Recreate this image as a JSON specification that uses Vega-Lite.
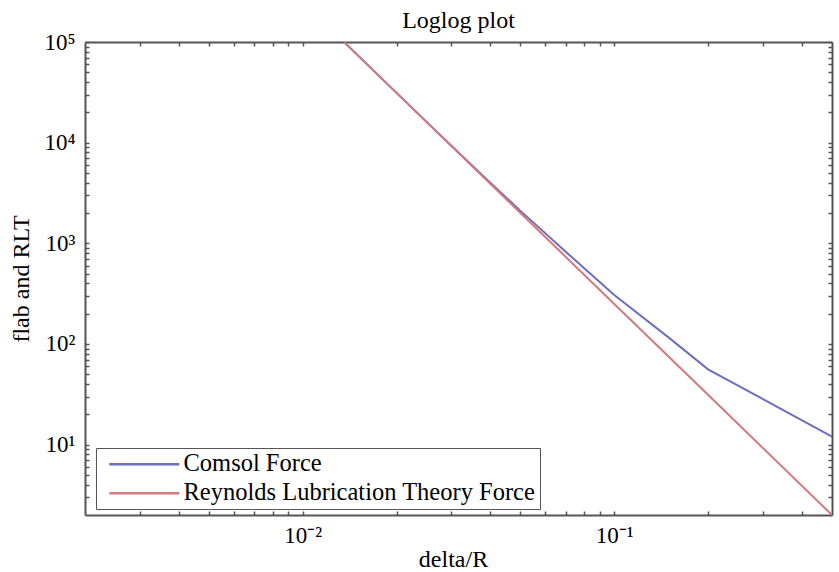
{
  "$schema": "https://vega.github.io/schema/vega-lite/v6.json",
  "width": 747,
  "height": 473,
  "autosize": {"type": "none"},
  "padding": {"left": 85, "top": 42, "right": 7, "bottom": 57},
  "background": "white",
  "title": {"text": "Loglog plot", "font": "Liberation Serif", "fontSize": 24, "fontWeight": "normal", "color": "black", "frame": "group", "anchor": "middle", "offset": -2},
  "data": {"values": [
    {"delta": 0.0136, "force": 99400, "series": "Comsol Force"},
    {"delta": 0.02, "force": 31250, "series": "Comsol Force"},
    {"delta": 0.03, "force": 9300, "series": "Comsol Force"},
    {"delta": 0.04, "force": 4000, "series": "Comsol Force"},
    {"delta": 0.05, "force": 2100, "series": "Comsol Force"},
    {"delta": 0.07, "force": 820, "series": "Comsol Force"},
    {"delta": 0.1, "force": 306, "series": "Comsol Force"},
    {"delta": 0.15, "force": 115, "series": "Comsol Force"},
    {"delta": 0.2, "force": 56, "series": "Comsol Force"},
    {"delta": 0.5, "force": 12, "series": "Comsol Force"},
    {"delta": 0.0136, "force": 99400, "series": "Reynolds Lubrication Theory Force"},
    {"delta": 0.02, "force": 31250, "series": "Reynolds Lubrication Theory Force"},
    {"delta": 0.05, "force": 2000, "series": "Reynolds Lubrication Theory Force"},
    {"delta": 0.1, "force": 250, "series": "Reynolds Lubrication Theory Force"},
    {"delta": 0.2, "force": 31.25, "series": "Reynolds Lubrication Theory Force"},
    {"delta": 0.5, "force": 2, "series": "Reynolds Lubrication Theory Force"}
  ]},
  "layer": [
    {
      "mark": {"type": "line", "strokeWidth": 2, "clip": true},
      "encoding": {
        "x": {"field": "delta", "type": "quantitative",
          "scale": {"type": "log", "domain": [0.002, 0.5], "nice": false},
          "axis": {"orient": "bottom", "title": "delta/R", "titleX": 368, "titleY": 51, "titleBaseline": "alphabetic", "titleAnchor": null,
            "values": [0.003,0.004,0.005,0.006,0.007,0.008,0.009,0.01,0.02,0.03,0.04,0.05,0.06,0.07,0.08,0.09,0.1,0.2,0.3,0.4],
            "labelExpr": "datum.value == 0.01 ? '10⁻²' : datum.value == 0.1 ? '10⁻¹' : ''",
            "labelPadding": 13}},
        "y": {"field": "force", "type": "quantitative",
          "scale": {"type": "log", "domain": [2, 100000], "nice": false},
          "axis": {"orient": "left", "title": "flab and RLT", "titleX": -64, "titleY": 236.5, "titleAngle": -90, "titleAlign": "center", "titleBaseline": "middle",
            "values": [3,4,5,6,7,8,9,10,20,30,40,50,60,70,80,90,100,200,300,400,500,600,700,800,900,1000,2000,3000,4000,5000,6000,7000,8000,9000,10000,20000,30000,40000,50000,60000,70000,80000,90000,100000],
            "labelExpr": "datum.value == 10 ? '10¹' : datum.value == 100 ? '10²' : datum.value == 1000 ? '10³' : datum.value == 10000 ? '10⁴' : datum.value == 100000 ? '10⁵' : ''",
            "labelPadding": 14}},
        "color": {"field": "series", "type": "nominal",
          "scale": {"domain": ["Comsol Force", "Reynolds Lubrication Theory Force"], "range": ["#6c6fc0", "#d27a7c"]},
          "legend": {"title": null, "orient": "none", "legendX": 11, "legendY": 406, "fillColor": "white", "strokeColor": "#555", "padding": 4,
            "symbolType": "M-0.3,0H6.7", "symbolSize": 400, "symbolStrokeWidth": 2.5, "rowPadding": 4, "labelFont": "Liberation Serif", "labelFontSize": 24.5, "labelColor": "black", "labelOffset": 59, "labelLimit": 600}}
      }
    },
    {
      "mark": {"type": "line", "opacity": 0},
      "encoding": {
        "x": {"field": "delta", "type": "quantitative",
          "scale": {"type": "log", "domain": [0.002, 0.5], "nice": false},
          "axis": {"orient": "top", "title": null, "labels": false,
            "values": [0.003,0.004,0.005,0.006,0.007,0.008,0.009,0.01,0.02,0.03,0.04,0.05,0.06,0.07,0.08,0.09,0.1,0.2,0.3,0.4]}},
        "y": {"field": "force", "type": "quantitative",
          "scale": {"type": "log", "domain": [2, 100000], "nice": false},
          "axis": {"orient": "right", "title": null, "labels": false,
            "values": [3,4,5,6,7,8,9,10,20,30,40,50,60,70,80,90,100,200,300,400,500,600,700,800,900,1000,2000,3000,4000,5000,6000,7000,8000,9000,10000,20000,30000,40000,50000,60000,70000,80000,90000,100000]}},
        "detail": {"field": "series", "type": "nominal"}
      }
    }
  ],
  "resolve": {"axis": {"x": "independent", "y": "independent"}},
  "config": {
    "view": {"stroke": null},
    "axis": {"grid": false, "domainColor": "#555", "domainWidth": 2, "tickColor": "#555", "tickWidth": 1.5, "tickSize": -4,
      "labelFont": "Liberation Serif", "labelFontSize": 23, "labelColor": "black",
      "titleFont": "Liberation Serif", "titleFontSize": 24, "titleFontWeight": "normal", "titleColor": "black"}
  }
}
